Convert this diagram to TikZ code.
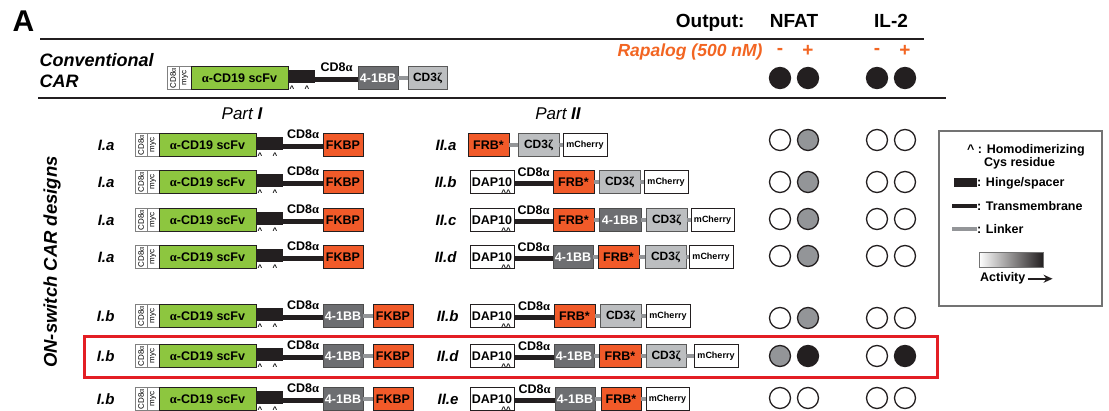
\documentclass[tikz,border=0pt]{standalone}
\usepackage{fontspec}
\setmainfont{Liberation Sans}
\newfontfamily\grk{Liberation Serif}
\usetikzlibrary{arrows.meta,positioning}

\definecolor{ck}{HTML}{231F20}
\definecolor{cg}{HTML}{939598}
\definecolor{scfvgreen}{HTML}{8DC63F}
\definecolor{orred}{HTML}{F15A29}
\definecolor{bbgray}{HTML}{6D6E71}
\definecolor{cdzgray}{HTML}{BCBEC0}
\definecolor{rapaorange}{HTML}{F26522}
\definecolor{framered}{HTML}{E31E24}
\newcommand\fsz[1]{\fontsize{#1}{#1}\selectfont}

\begin{document}
\begin{tikzpicture}[x=1pt, y=-1pt,
  dom/.style={draw=ck, line width=0.9pt, minimum height=23pt, inner sep=0pt,
    outer sep=0pt, anchor=west, font=\bfseries\fsz{12.5}},
  scfv/.style={dom, fill=scfvgreen, minimum width=97pt},
  fkbp/.style={dom, fill=orred, minimum width=40pt},
  frb/.style={dom, fill=orred, minimum width=41pt},
  bbdom/.style={dom, fill=bbgray, draw=black!70, text=white, minimum width=40pt},
  cdz/.style={dom, fill=cdzgray, draw=black!65, minimum width=41pt, font=\bfseries\fsz{12}},
  mch/.style={dom, fill=white, minimum width=44pt, font=\bfseries\fsz{9}},
  dap/.style={dom, fill=white, minimum width=44pt},
  tagbox/.style={dom, fill=white, draw=black!50, line width=0.6pt, minimum width=12pt, font=\fsz{8}},
  hinge/.style={fill=ck, minimum width=27pt, minimum height=13pt, inner sep=0pt, outer sep=0pt, anchor=west},
  tm/.style={draw=ck, line width=5pt},
  lk/.style={draw=cg, line width=4pt},
  caret/.style={font=\bfseries\fsz{8}, inner sep=0pt},
  rowlab/.style={anchor=east, font=\bfseries\itshape\fsz{15}},
  tmlab/.style={font=\bfseries\fsz{12.5}, inner sep=0pt},
  outdot/.style={circle, draw=ck, line width=1.3pt, minimum size=21pt, inner sep=0pt},
  leg/.style={anchor=base west, inner sep=0pt, font=\bfseries\fsz{12.5}},
  sign/.style={text=rapaorange, font=\bfseries\fsz{19}}]
\useasboundingbox (0,0) rectangle (1109,411);

% header
\node[anchor=north west, font=\bfseries\fsz{30}] (panel) at (9,7) {A};
\node[anchor=base east, font=\bfseries\fsz{19}] (outp) at (748,28) {Output:};
\node[anchor=base, font=\bfseries\fsz{19}] (nfat) at (794,28) {NFAT};
\node[anchor=base, font=\bfseries\fsz{19}] (il2) at (891,28) {IL-2};
\draw[ck, line width=2pt] (40,39) -- (924,39);
\node[anchor=base east, text=rapaorange, font=\bfseries\itshape\fsz{17.5}] (rapa) at (766,57) {Rapalog (500 nM)};
\node[sign] (sm1) at (780,51) {-};
\node[sign] (sp1) at (808,51) {+};
\node[sign] (sm2) at (877,51) {-};
\node[sign] (sp2) at (905,51) {+};

% conventional CAR
\node[anchor=base west, font=\bfseries\itshape\fsz{18}] (conv1) at (36,67) {Conventional};
\node[anchor=base west, font=\bfseries\itshape\fsz{18}] (conv2) at (36,88) {CAR};
\node[tagbox] (ccd) at (167,78) {\rotatebox{90}{CD8{\grk α}}};
\node[tagbox, right=0pt of ccd] (cmy) {\rotatebox{90}{myc}};
\node[scfv, right=0pt of cmy] (csc) {{\grk α}-CD19 scFv};
\node[hinge, right=0pt of csc, yshift=1.5pt] (chg) {};
\node[caret] at ([xshift=4pt, yshift=-6pt]chg.south west) {\textasciicircum};
\node[caret] at ([xshift=19pt, yshift=-6pt]chg.south west) {\textasciicircum};
\coordinate (cts) at ([yshift=-3.5pt]chg.east);
\node[bbdom] (cbb) at (358,78) {4-1BB};
\node[cdz, minimum width=39pt] (ccz) at (408,78) {CD3{\grk ζ}};
\draw[tm] (cts) -- node[tmlab, above=6pt] {CD8{\grk α}} (cts -| cbb.west);
\draw[lk] (cbb) -- (ccz);
\draw[ck, line width=2pt] (38,98) -- (946,98);

% Part I
\node[font=\itshape\fsz{17}] (part1) at (242,114) {Part \textbf{I}};
\foreach \rw/\ya/\lt in {1/145/a,2/182/a,3/220/a,4/257/a,5/316/b,6/356/b,7/399/b}{
  \node[rowlab] (pl\rw) at (118,\ya) {I.\lt};
  \node[tagbox] (cd\rw) at (135,\ya) {\rotatebox{90}{CD8{\grk α}}};
  \node[tagbox, right=0pt of cd\rw] (my\rw) {\rotatebox{90}{myc}};
  \node[scfv, right=0pt of my\rw] (sc\rw) {{\grk α}-CD19 scFv};
  \node[hinge, right=0pt of sc\rw, yshift=1.5pt] (hg\rw) {};
  \node[caret] at ([xshift=4pt, yshift=-5.5pt]hg\rw.south west) {\textasciicircum};
  \node[caret] at ([xshift=19pt, yshift=-5.5pt]hg\rw.south west) {\textasciicircum};
  \coordinate (ts\rw) at ([yshift=-3.5pt]hg\rw.east);
}
\foreach \rw/\ya in {1/145,2/182,3/220,4/257}{
  \node[fkbp] (en\rw) at (323,\ya) {FKBP};
  \draw[tm] (ts\rw) -- node[tmlab, above=6pt] {CD8{\grk α}} (ts\rw -| en\rw.west);
}
\foreach \rw/\ya in {5/316,6/356,7/399}{
  \node[bbdom] (en\rw) at (323,\ya) {4-1BB};
  \node[fkbp, right=10pt of en\rw] (fk\rw) {FKBP};
  \draw[tm] (ts\rw) -- node[tmlab, above=6pt] {CD8{\grk α}} (ts\rw -| en\rw.west);
  \draw[lk] (en\rw) -- (fk\rw);
}

% Part II
\node[font=\itshape\fsz{17}] (part2) at (558,114) {Part \textbf{II}};
\node[rowlab] (ql1) at (460,145) {II.a};
\node[frb] (q11) at (468,145) {FRB*};
\node[cdz] (q12) at (518,145) {CD3{\grk ζ}};
\node[mch] (q13) at (563,145) {mCherry};
\draw[lk] (q11) -- (q12) (q12) -- (q13);

\node[rowlab] (ql2) at (460,182) {II.b};
\node[frb] (q22) at (553,182) {FRB*};
\node[cdz] (q23) at (599,182) {CD3{\grk ζ}};
\node[mch] (q24) at (644,182) {mCherry};
\draw[lk] (q22) -- (q23) (q23) -- (q24);

\node[rowlab] (ql3) at (460,220) {II.c};
\node[frb] (q32) at (553,220) {FRB*};
\node[bbdom, minimum width=42pt] (q33) at (599,220) {4-1BB};
\node[cdz] (q34) at (646,220) {CD3{\grk ζ}};
\node[mch, minimum width=43pt] (q35) at (691,220) {mCherry};
\draw[lk] (q32) -- (q33) (q33) -- (q34) (q34) -- (q35);

\node[rowlab] (ql4) at (460,257) {II.d};
\node[bbdom] (q42) at (553,257) {4-1BB};
\node[frb] (q43) at (598,257) {FRB*};
\node[cdz] (q44) at (645,257) {CD3{\grk ζ}};
\node[mch] (q45) at (689,257) {mCherry};
\draw[lk] (q42) -- (q43) (q43) -- (q44) (q44) -- (q45);

\node[rowlab] (ql5) at (462,316) {II.b};
\node[frb] (q52) at (554,316) {FRB*};
\node[cdz] (q53) at (600,316) {CD3{\grk ζ}};
\node[mch] (q54) at (646,316) {mCherry};
\draw[lk] (q52) -- (q53) (q53) -- (q54);

\node[rowlab] (ql6) at (462,356) {II.d};
\node[bbdom] (q62) at (554,356) {4-1BB};
\node[frb, minimum width=42pt] (q63) at (599,356) {FRB*};
\node[cdz, minimum width=40pt] (q64) at (646,356) {CD3{\grk ζ}};
\node[mch] (q65) at (694,356) {mCherry};
\draw[lk] (q62) -- (q63) (q63) -- (q64) (q64) -- (q65);

\node[rowlab] (ql7) at (462,399) {II.e};
\node[bbdom] (q72) at (555,399) {4-1BB};
\node[frb, minimum width=40pt] (q73) at (601,399) {FRB*};
\node[mch, minimum width=43pt] (q74) at (646,399) {mCherry};
\draw[lk] (q72) -- (q73) (q73) -- (q74);

\foreach \rw/\ya in {2/182,3/220,4/257,5/316,6/356,7/399}{
  \node[dap] (q\rw1) at (470,\ya) {DAP10};
  \node[caret] at ([xshift=-8pt, yshift=1pt]q\rw1.south east) {\textasciicircum\textasciicircum};
  \draw[tm] ([yshift=-2pt]q\rw1.east) -- node[tmlab, above=5pt] {CD8{\grk α}} ([yshift=-2pt]q\rw2.west);
}

% outputs
\foreach \rw/\ya/\fa/\fb/\fc/\fd in {0/78/ck/ck/ck/ck, 1/140/white/cg/white/white,
    2/182/white/cg/white/white, 3/219/white/cg/white/white, 4/256/white/cg/white/white,
    5/318/white/cg/white/white, 6/356/cg/ck/white/ck, 7/398/white/white/white/white}{
  \node[outdot, fill=\fa] (na\rw) at (780,\ya) {};
  \node[outdot, fill=\fb] (nb\rw) at (808,\ya) {};
  \node[outdot, fill=\fc] (ia\rw) at (877,\ya) {};
  \node[outdot, fill=\fd] (ib\rw) at (905,\ya) {};
}

\node[rotate=90, font=\bfseries\itshape\fsz{18.5}] (vert) at (52,262) {ON-switch CAR designs};
\draw[framered, line width=3pt] (84,337) rectangle (937,378);

% legend
\draw[black!55, line width=1.5pt] (939,131) rectangle (1102,306);
\node[leg] (lg1) at (967,154) {\textasciicircum\ : Homodimerizing};
\node[leg] (lg2) at (984,167) {Cys residue};
\fill[ck] (954,178) rectangle (977,187);
\node[leg] (lg3) at (977,187) {: Hinge/spacer};
\draw[ck, line width=4pt] (952,206) -- (977,206);
\node[leg] (lg4) at (977,211) {: Transmembrane};
\draw[lk] (952,229) -- (977,229);
\node[leg] (lg5) at (977,234) {: Linker};
\shade[left color=white, right color=ck, draw=black!55, line width=1pt] (979,253) rectangle (1043,268);
\node[leg] (lg6) at (980,282) {Activity};
\coordinate (actend) at ([xshift=27pt]lg6.east);
\draw[ck, line width=2pt, -{Stealth[length=9pt, width=8pt]}] ([xshift=2pt]lg6.east) -- (actend);
\end{tikzpicture}
\end{document}
